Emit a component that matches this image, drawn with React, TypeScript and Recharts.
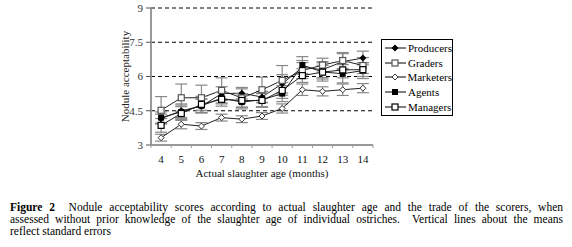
import React from 'react';
import { LineChart, Line, XAxis, YAxis, CartesianGrid, ErrorBar, Label } from 'recharts';

const ages = [4, 5, 6, 7, 8, 9, 10, 11, 12, 13, 14];
const producers = [4.15, 4.5, 4.7, 5.25, 5.27, 5.1, 5.68, 6.4, 6.3, 6.65, 6.81];
const graders = [4.52, 5.07, 5.07, 5.39, 5.06, 5.42, 5.83, 6.26, 6.5, 6.7, 6.48];
const marketers = [3.32, 3.91, 3.83, 4.2, 4.13, 4.27, 4.6, 5.42, 5.35, 5.42, 5.49];
const agents = [4.2, 4.45, 4.72, 5.05, 4.88, 4.98, 5.25, 6.5, 6.2, 6.12, 6.26];
const managers = [3.86, 4.38, 4.78, 5.0, 4.95, 4.95, 5.39, 6.04, 6.19, 6.29, 6.3];

const producersErr = [0.2, 0.3, 0.3, 0.3, 0.25, 0.25, 0.4, 0.3, 0.35, 0.35, 0.3];
const gradersErr = [0.6, 0.6, 0.55, 0.55, 0.4, 0.55, 0.65, 0.35, 0.3, 0.35, 0.35];
const marketersErr = [0.15, 0.2, 0.15, 0.15, 0.15, 0.15, 0.2, 0.25, 0.2, 0.25, 0.2];
const agentsErr = [0.25, 0.3, 0.3, 0.25, 0.3, 0.3, 0.35, 0.37, 0.4, 0.4, 0.35];
const managersErr = [0.3, 0.3, 0.35, 0.3, 0.3, 0.3, 0.35, 0.3, 0.3, 0.35, 0.3];

const yTicks = [3, 4.5, 6, 7.5, 9];

const data = ages.map((age, i) => ({
  age,
  producers: producers[i],
  graders: graders[i],
  marketers: marketers[i],
  agents: agents[i],
  managers: managers[i],
  producersErr: producersErr[i],
  gradersErr: gradersErr[i],
  marketersErr: marketersErr[i],
  agentsErr: agentsErr[i],
  managersErr: managersErr[i],
}));

const serif = '"Liberation Serif", "Times New Roman", serif';
const plotW = 222;
const half = plotW / ages.length / 2;

type Kind = 'fdiamond' | 'osquare' | 'odiamond' | 'fsquare' | 'osquare2';

const marker = (kind: Kind, cx: number, cy: number) => {
  switch (kind) {
    case 'fdiamond':
      return <path d={`M${cx},${cy - 3.5}L${cx + 3.5},${cy}L${cx},${cy + 3.5}L${cx - 3.5},${cy}Z`} fill="#000" />;
    case 'odiamond':
      return <path d={`M${cx},${cy - 3}L${cx + 3},${cy}L${cx},${cy + 3}L${cx - 3},${cy}Z`} fill="#fff" stroke="#333" strokeWidth={1} />;
    case 'fsquare':
      return <rect x={cx - 3} y={cy - 3} width={6} height={6} fill="#000" />;
    case 'osquare':
      return <rect x={cx - 3} y={cy - 3} width={6} height={6} fill="#fff" stroke="#555" strokeWidth={1.2} />;
    default:
      return <rect x={cx - 3} y={cy - 3} width={6} height={6} fill="#fff" stroke="#000" strokeWidth={1.2} />;
  }
};

const dotFor = (kind: Kind) => (p: any) => (
  <g key={`${kind}-${p.index}`}>{marker(kind, p.cx, p.cy)}</g>
);

// label at the category centre, small tick marks at the category edges
const AgeTick = (p: any) => {
  const { x, y, payload, index } = p;
  return (
    <g>
      <line x1={x - half} y1={y - 8} x2={x - half} y2={y - 5} stroke="#999" />
      {index === ages.length - 1 && <line x1={x + half} y1={y - 8} x2={x + half} y2={y - 5} stroke="#999" />}
      <text x={x} y={y + 10} textAnchor="middle" fill="#111" fontSize={11} fontFamily={serif}>
        {payload.value}
      </text>
    </g>
  );
};

const series: { key: string; name: string; kind: Kind }[] = [
  { key: 'producers', name: 'Producers', kind: 'fdiamond' },
  { key: 'graders', name: 'Graders', kind: 'osquare' },
  { key: 'marketers', name: 'Marketers', kind: 'odiamond' },
  { key: 'agents', name: 'Agents', kind: 'fsquare' },
  { key: 'managers', name: 'Managers', kind: 'osquare2' },
];

const LegendBox = () => (
  <div
    style={{
      position: 'absolute',
      left: 381,
      top: 39,
      border: '1px solid #000',
      width: 70,
      padding: '1px 0',
      fontFamily: serif,
      fontSize: 11,
      background: '#fff',
    }}
  >
    {series.map((s) => (
      <div key={s.key} style={{ display: 'flex', alignItems: 'center', height: 14.6 }}>
        <svg width={24} height={10} style={{ marginLeft: 2 }}>
          <line x1={1} y1={5} x2={22} y2={5} stroke="#000" strokeWidth={1} />
          {marker(s.kind, 11, 5)}
        </svg>
        <span style={{ color: '#000' }}>{s.name}</span>
      </div>
    ))}
  </div>
);

const captionLine: React.CSSProperties = { textAlign: 'justify', textAlignLast: 'justify', whiteSpace: 'nowrap', height: 12 };

export default function App() {
  return (
    <div style={{ position: 'absolute', left: 0, top: 0, width: 572, height: 247, background: '#fff' }}>
      <LineChart width={572} height={190} data={data} margin={{ top: 8, right: 199, left: 0, bottom: 0 }}>
        <CartesianGrid vertical={false} stroke="#000" strokeDasharray="4 3" horizontalValues={[4.5, 6, 7.5, 9]} />
        <XAxis
          dataKey="age"
          type="number"
          domain={[3.5, 14.5]}
          ticks={ages}
          interval={0}
          tickLine={false}
          axisLine={{ stroke: '#999', strokeWidth: 2 }}
          height={45}
          tickSize={4}
          tickMargin={4}
          tick={<AgeTick />}
        >
          <Label value="Actual slaughter age (months)" position="center" dy={6} style={{ fill: '#111', fontSize: 11, fontFamily: serif }} />
        </XAxis>
        <YAxis
          domain={[3, 9]}
          ticks={yTicks}
          interval={0}
          width={151}
          tickSize={5}
          tickMargin={3}
          axisLine={{ stroke: '#999', strokeWidth: 2 }}
          tickLine={{ stroke: '#555' }}
          tick={{ fill: '#333', fontSize: 11, fontFamily: serif }}
        >
          <Label value="Nodule acceptability" angle={-90} position="center" dx={50} style={{ fill: '#222', fontSize: 11, fontFamily: serif }} />
        </YAxis>
        {series.map((s) => (
          <Line
            key={s.key}
            dataKey={s.key}
            name={s.name}
            type="linear"
            stroke="#222"
            strokeWidth={1}
            dot={dotFor(s.kind)}
            isAnimationActive={false}
          >
            <ErrorBar dataKey={`${s.key}Err`} width={6} stroke="#888" strokeWidth={1.2} />
          </Line>
        ))}
      </LineChart>
      <LegendBox />
      <div
        style={{
          position: 'absolute',
          left: 10,
          top: 201,
          width: 553,
          fontFamily: serif,
          fontSize: 11.5,
          lineHeight: '12px',
          color: '#000',
        }}
      >
        <div style={captionLine}>
          <b>Figure 2</b>&nbsp; Nodule acceptability scores according to actual slaughter age and the trade of the scorers, when
        </div>
        <div style={captionLine}>
          assessed without prior knowledge of the slaughter age of individual ostriches.&nbsp; Vertical lines about the means
        </div>
        <div>reflect standard errors</div>
      </div>
    </div>
  );
}
